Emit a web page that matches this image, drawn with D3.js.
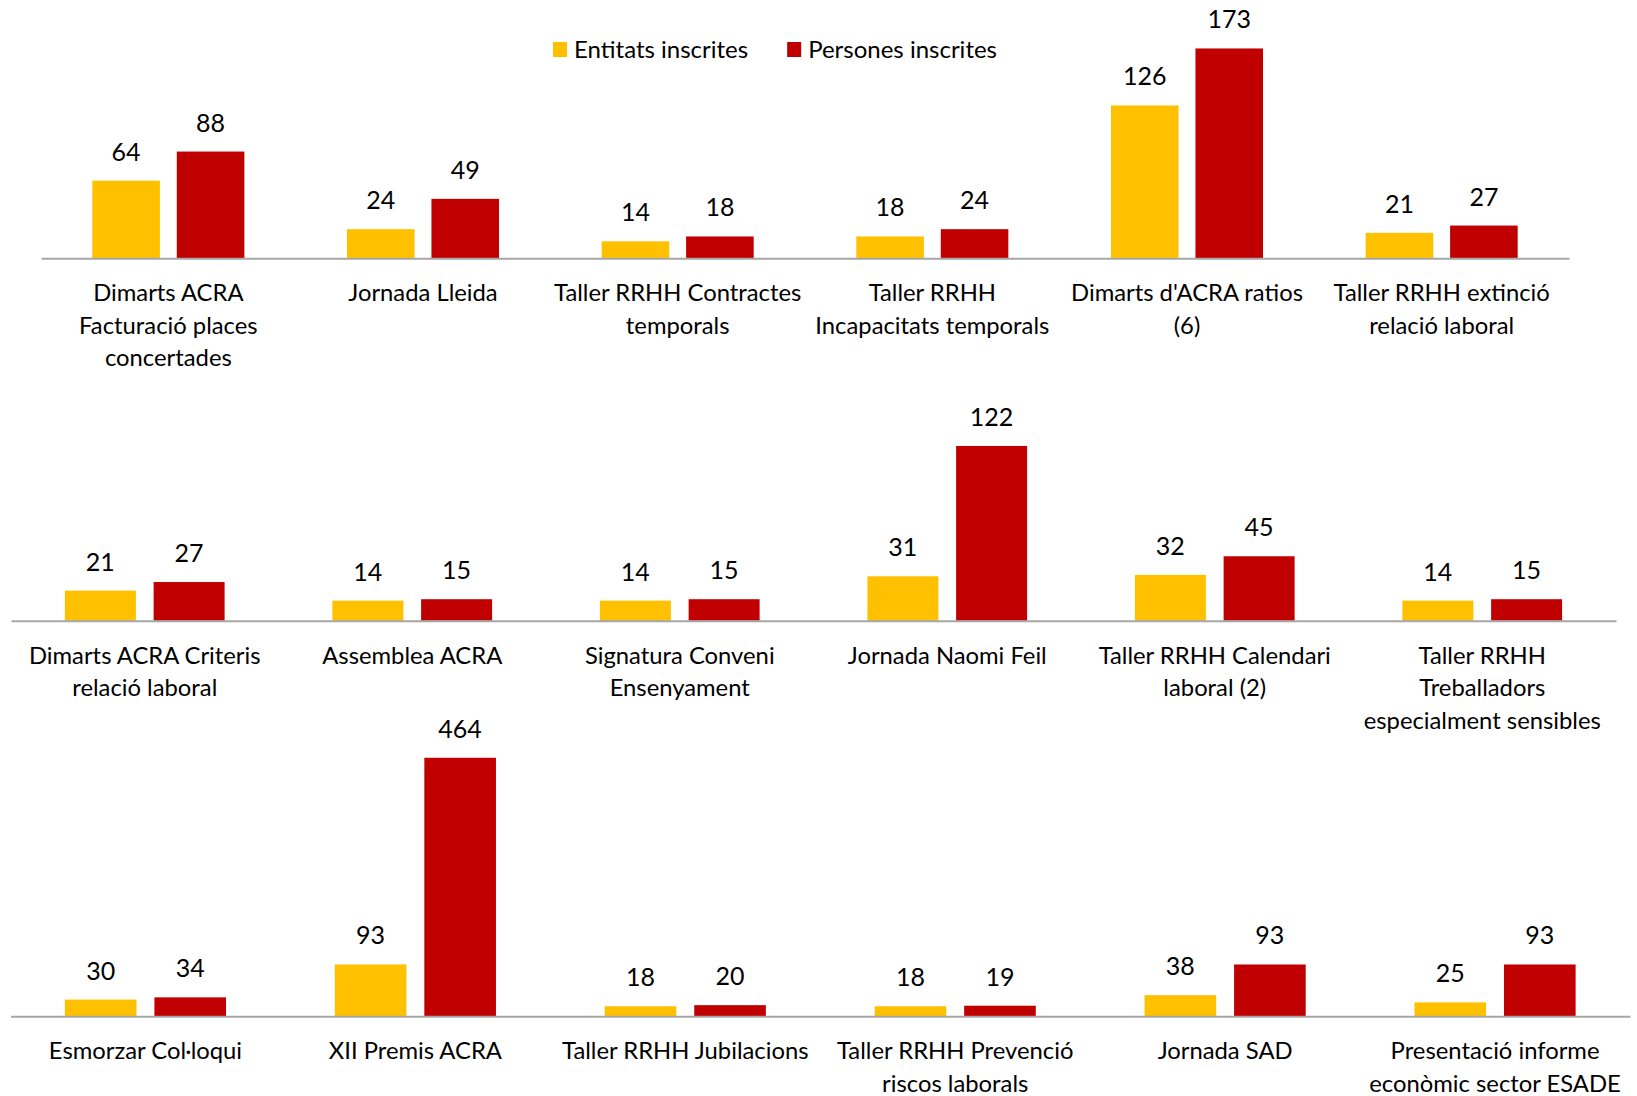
<!DOCTYPE html>
<html>
<head>
<meta charset="utf-8">
<script src="https://cdn.jsdelivr.net/npm/d3@7/dist/d3.min.js"></script>
<style>
  html, body { margin: 0; padding: 0; background: #fff; }
  svg { display: block; }
  text { font-family: Lato, "Open Sans", sans-serif; fill: #000; }
</style>
</head>
<body>
<svg id="chart" width="1637" height="1096"></svg>
<script>
// ---- Data ----
const seriesNames = ["Entitats inscrites", "Persones inscrites"];
const seriesColors = ["#FFC000", "#C00000"];

const row1Categories = ["Dimarts ACRA\nFacturació places\nconcertades", "Jornada Lleida", "Taller RRHH Contractes\ntemporals", "Taller RRHH\nIncapacitats temporals", "Dimarts d'ACRA ratios\n(6)", "Taller RRHH extinció\nrelació laboral"];
const row1Entitats = [64, 24, 14, 18, 126, 21];
const row1Persones = [88, 49, 18, 24, 173, 27];

const row2Categories = ["Dimarts ACRA Criteris\nrelació laboral", "Assemblea ACRA", "Signatura Conveni\nEnsenyament", "Jornada Naomi Feil", "Taller RRHH Calendari\nlaboral (2)", "Taller RRHH\nTreballadors\nespecialment sensibles"];
const row2Entitats = [21, 14, 14, 31, 32, 14];
const row2Persones = [27, 15, 15, 122, 45, 15];

const row3Categories = ["Esmorzar Col·loqui", "XII Premis ACRA", "Taller RRHH Jubilacions", "Taller RRHH Prevenció\nriscos laborals", "Jornada SAD", "Presentació informe\neconòmic sector ESADE"];
const row3Entitats = [30, 93, 18, 18, 38, 25];
const row3Persones = [34, 464, 20, 19, 93, 93];

const rowMax = [200, 140, 500];

// ---- Layout ----
const svg = d3.select("#chart");
const rows = [
  { cats: row1Categories, a: row1Entitats, b: row1Persones, max: rowMax[0], x0: 41, x1: 1569, base: 258.3, top: 15.7 },
  { cats: row2Categories, a: row2Entitats, b: row2Persones, max: rowMax[1], x0: 11, x1: 1616, base: 620.7, top: 420.2 },
  { cats: row3Categories, a: row3Entitats, b: row3Persones, max: rowMax[2], x0: 10.5, x1: 1630, base: 1016.3, top: 737.7 }
];

rows.forEach(r => {
  const data = r.cats.map((c, i) => ({ cat: c, vals: [r.a[i], r.b[i]] }));
  const x = d3.scaleBand().domain(r.cats).range([r.x0, r.x1]).paddingInner(0.403).paddingOuter(0.2015);
  const xi = d3.scaleBand().domain([0, 1]).range([0, x.bandwidth()]).paddingInner(0.2).paddingOuter(0);
  const y = d3.scaleLinear().domain([0, r.max]).range([r.base, r.top]);

  const g = svg.append("g");
  const groups = g.selectAll("g.grp").data(data).join("g")
    .attr("transform", d => `translate(${x(d.cat)},0)`);

  groups.selectAll("rect").data(d => d.vals.map((v, k) => ({ v, k }))).join("rect")
    .attr("x", d => xi(d.k))
    .attr("width", xi.bandwidth())
    .attr("y", d => y(d.v))
    .attr("height", d => y(0) - y(d.v))
    .attr("fill", d => seriesColors[d.k]);

  groups.selectAll("text.val").data(d => d.vals.map((v, k) => ({ v, k }))).join("text")
    .attr("class", "val")
    .attr("x", d => xi(d.k) + xi.bandwidth() / 2)
    .attr("y", d => y(d.v) - 20)
    .attr("text-anchor", "middle")
    .style("font-size", "25px")
    .text(d => d.v);

  const axis = d3.axisBottom(x).tickSize(0).tickSizeOuter(0).tickPadding(0);
  const ax = g.append("g").attr("transform", `translate(0,${y(0)})`).call(axis);
  ax.select(".domain").attr("stroke", "#A6A6A6").attr("stroke-width", 2);
  ax.selectAll(".tick text").each(function(d) {
    const t = d3.select(this);
    t.text(null).attr("y", 0).attr("dy", null)
      .style("font-size", "23.8px").attr("fill", "#000")
      .style("font-family", "Lato, 'Open Sans', sans-serif");
    d.split("\n").forEach((line, i) => {
      t.append("tspan").attr("x", 0).attr("y", 43 + i * 32.5).text(line);
    });
  });
});

// ---- Legend ----
const legend = svg.append("g").attr("transform", "translate(553,0)");
let lx = 0;
seriesNames.forEach((name, i) => {
  const it = legend.append("g").attr("transform", `translate(${lx},0)`);
  it.append("rect").attr("x", 0).attr("y", 42).attr("width", 14).attr("height", 15).attr("fill", seriesColors[i]);
  const t = it.append("text").attr("x", 21).attr("y", 58).style("font-size", "24px").text(name);
  lx += 21 + t.node().getComputedTextLength() + 39;
});
</script>
</body>
</html>
